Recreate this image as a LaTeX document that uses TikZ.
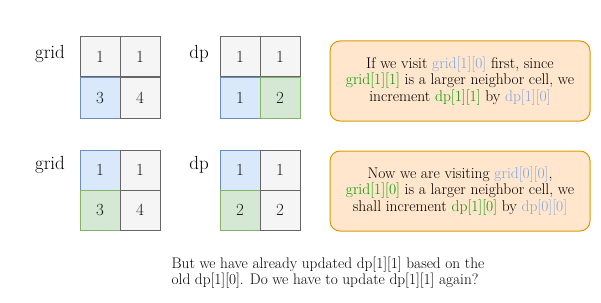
\documentclass[tikz,border=0pt]{standalone}
\usepackage{tikz}
\usetikzlibrary{positioning}
\definecolor{greyfill}{HTML}{F5F5F5}
\definecolor{greyline}{HTML}{666666}
\definecolor{bluefill}{HTML}{DAE8FC}
\definecolor{blueline}{HTML}{6C8EBF}
\definecolor{greenfill}{HTML}{D5E8D4}
\definecolor{greenline}{HTML}{82B366}
\definecolor{notefill}{HTML}{FFE6CC}
\definecolor{noteline}{HTML}{D79B00}
\definecolor{bluetext}{HTML}{7EA6E0}
\definecolor{greentext}{HTML}{009900}
\newcommand{\bl}[1]{\textcolor{bluetext}{#1}}
\newcommand{\gr}[1]{\textcolor{greentext}{#1}}
% one square of a 2x2 table: name, x, y (centre, px), style, value
\newcommand{\sq}[5]
{
	\node[#4] (#1) at (#2,#3) {#5};
}

\begin{document}
\begin{tikzpicture}[x=1pt, y=-1pt,
	cell/.style={draw, line width=1pt, minimum size=40pt, inner sep=0pt,
		font=\fontsize{17}{17}\selectfont, text=black!90},
	plain/.style={cell, fill=greyfill, draw=greyline},
	blue/.style={cell, fill=bluefill, draw=blueline},
	green/.style={cell, fill=greenfill, draw=greenline},
	label/.style={font=\fontsize{19}{19}\selectfont},
	note/.style={draw=noteline, fill=notefill, line width=1pt, rounded corners=10pt,
		minimum width=260pt, minimum height=80pt, align=center,
		font=\fontsize{15.5}{16.5}\selectfont}]
	\useasboundingbox (0,0) rectangle (601,302);

	% first row: grid and dp before the revisit
	\node[label] (gridA) at (50,54) {grid};
	\sq{gA00}{100}{57}{plain}{1};
	\sq{gA01}{140}{57}{plain}{1};
	\sq{gA10}{100}{98}{blue}{3};
	\sq{gA11}{140}{98}{plain}{4};

	\node[label] (dpA) at (199,54) {dp};
	\sq{dA00}{240}{57}{plain}{1};
	\sq{dA01}{280}{57}{plain}{1};
	\sq{dA10}{240}{98}{blue}{1};
	\sq{dA11}{280}{98}{green}{2};

	\node[note] (noteA) at (460,81) {If we visit \bl{grid[1][0]} first, since\\
		\gr{grid[1][1]} is a larger neighbor cell, we\\
		increment \gr{dp[1][1]} by \bl{dp[1][0]}};

	% second row: visiting grid[0][0]
	\node[label] (gridB) at (50,165) {grid};
	\sq{gB00}{100}{170}{blue}{1};
	\sq{gB01}{140}{170}{plain}{1};
	\sq{gB10}{100}{210}{green}{3};
	\sq{gB11}{140}{210}{plain}{4};

	\node[label] (dpB) at (199,165) {dp};
	\sq{dB00}{240}{170}{blue}{1};
	\sq{dB01}{280}{170}{plain}{1};
	\sq{dB10}{240}{210}{green}{2};
	\sq{dB11}{280}{210}{plain}{2};

	\node[note] (noteB) at (460,191) {Now we are visiting \bl{grid[0][0]},\\
		\gr{grid[1][0]} is a larger neighbor cell, we\\
		shall increment \gr{dp[1][0]} by \bl{dp[0][0]}};

	% question underneath
	\node[align=left, font=\fontsize{15.3}{16}\selectfont] (question) at (328,273)
		{But we have already updated dp[1][1] based on the\\
		old dp[1][0]. Do we have to update dp[1][1] again?};
\end{tikzpicture}
\end{document}
